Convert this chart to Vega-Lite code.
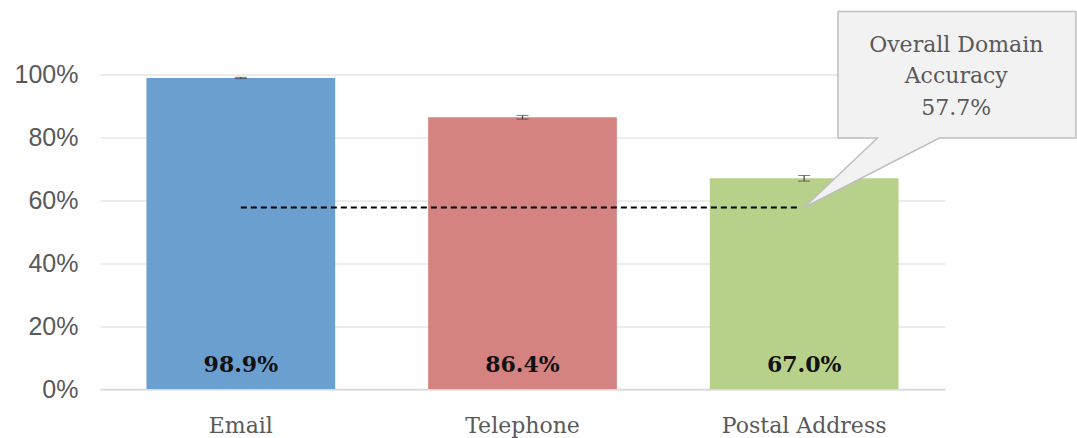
{
  "$schema": "https://vega.github.io/schema/vega-lite/v6.json",
  "autosize": {"type": "none"},
  "padding": {"left": 100, "top": 74.5, "right": 132, "bottom": 49},
  "width": 845,
  "height": 314.5,
  "background": "white",
  "config": {"view": {"stroke": null}},
  "datasets": {
    "bars": [
      {"channel": "Email", "accuracy": 0.989, "lo": 0.987, "hi": 0.991, "label": "98.9%"},
      {"channel": "Telephone", "accuracy": 0.864, "lo": 0.858, "hi": 0.870, "label": "86.4%"},
      {"channel": "Postal Address", "accuracy": 0.670, "lo": 0.661, "hi": 0.679, "label": "67.0%"}
    ],
    "callout": [
      {"i": 0, "x": 2.62, "y": 1.2},
      {"i": 1, "x": 3.465, "y": 1.2},
      {"i": 2, "x": 3.465, "y": 0.798},
      {"i": 3, "x": 2.98, "y": 0.798},
      {"i": 4, "x": 2.5, "y": 0.577},
      {"i": 5, "x": 2.76, "y": 0.798},
      {"i": 6, "x": 2.62, "y": 0.798},
      {"i": 7, "x": 2.62, "y": 1.2}
    ],
    "overall": [
      {"start": 0.5, "end": 2.48, "value": 0.577, "text": "Overall Domain\nAccuracy\n57.7%", "tx": 3.04, "ty": 1.094}
    ]
  },
  "layer": [
    {
      "data": {"name": "bars"},
      "encoding": {
        "x": {
          "field": "channel", "type": "nominal", "sort": null,
          "scale": {"paddingInner": 0.33, "paddingOuter": 0.165},
          "axis": {
            "title": null, "labelAngle": 0, "ticks": false,
            "domainColor": "#d9d9d9", "domainWidth": 1.5,
            "labelFont": "DejaVu Serif", "labelFontSize": 22, "labelColor": "#595959",
            "labelPadding": 26
          }
        }
      },
      "layer": [
        {
          "mark": {"type": "bar"},
          "encoding": {
            "y": {
              "field": "accuracy", "type": "quantitative",
              "scale": {"domain": [0, 1], "nice": false},
              "axis": {
                "title": null, "values": [0, 0.2, 0.4, 0.6, 0.8, 1], "format": ".0%",
                "ticks": false, "domain": false, "gridColor": "#d9d9d9", "gridWidth": 1.2,
                "labelFont": "Liberation Sans", "labelFontSize": 25, "labelColor": "#595959",
                "labelPadding": 22
              }
            },
            "color": {
              "field": "channel", "type": "nominal", "legend": null,
              "scale": {"domain": ["Email", "Telephone", "Postal Address"], "range": ["#6a9fcf", "#d48381", "#b7d08a"]}
            }
          }
        },
        {
          "mark": {"type": "errorbar", "color": "#404040", "ticks": {"size": 12, "color": "#404040"}, "rule": {"strokeWidth": 1.2}},
          "encoding": {
            "y": {"field": "lo", "type": "quantitative"},
            "y2": {"field": "hi"}
          }
        },
        {
          "mark": {"type": "text", "font": "DejaVu Serif", "fontWeight": "bold", "fontSize": 22, "color": "#111111", "baseline": "middle"},
          "encoding": {
            "y": {"datum": 0.077},
            "text": {"field": "label"}
          }
        }
      ]
    },
    {
      "layer": [
        {
          "data": {"name": "overall"},
          "mark": {"type": "rule", "color": "#000000", "strokeWidth": 2, "strokeDash": [6, 4]},
          "encoding": {
            "x": {"field": "start", "type": "quantitative", "scale": {"domain": [0, 3], "nice": false, "zero": false}, "axis": null},
            "x2": {"field": "end"},
            "y": {"field": "value", "type": "quantitative"}
          }
        },
        {
          "data": {"name": "callout"},
          "mark": {"type": "line", "fill": "#f2f2f2", "stroke": "#bfbfbf", "strokeWidth": 1.5},
          "encoding": {
            "x": {"field": "x", "type": "quantitative", "axis": null},
            "y": {"field": "y", "type": "quantitative"},
            "order": {"field": "i", "type": "quantitative"}
          }
        },
        {
          "data": {"name": "overall"},
          "mark": {"type": "text", "font": "DejaVu Serif", "fontSize": 22, "color": "#595959", "baseline": "middle", "lineBreak": "\n", "lineHeight": 31.5},
          "encoding": {
            "x": {"field": "tx", "type": "quantitative", "axis": null},
            "y": {"field": "ty", "type": "quantitative"},
            "text": {"field": "text"}
          }
        }
      ]
    }
  ],
  "resolve": {"scale": {"x": "independent"}, "axis": {"x": "independent"}}
}
